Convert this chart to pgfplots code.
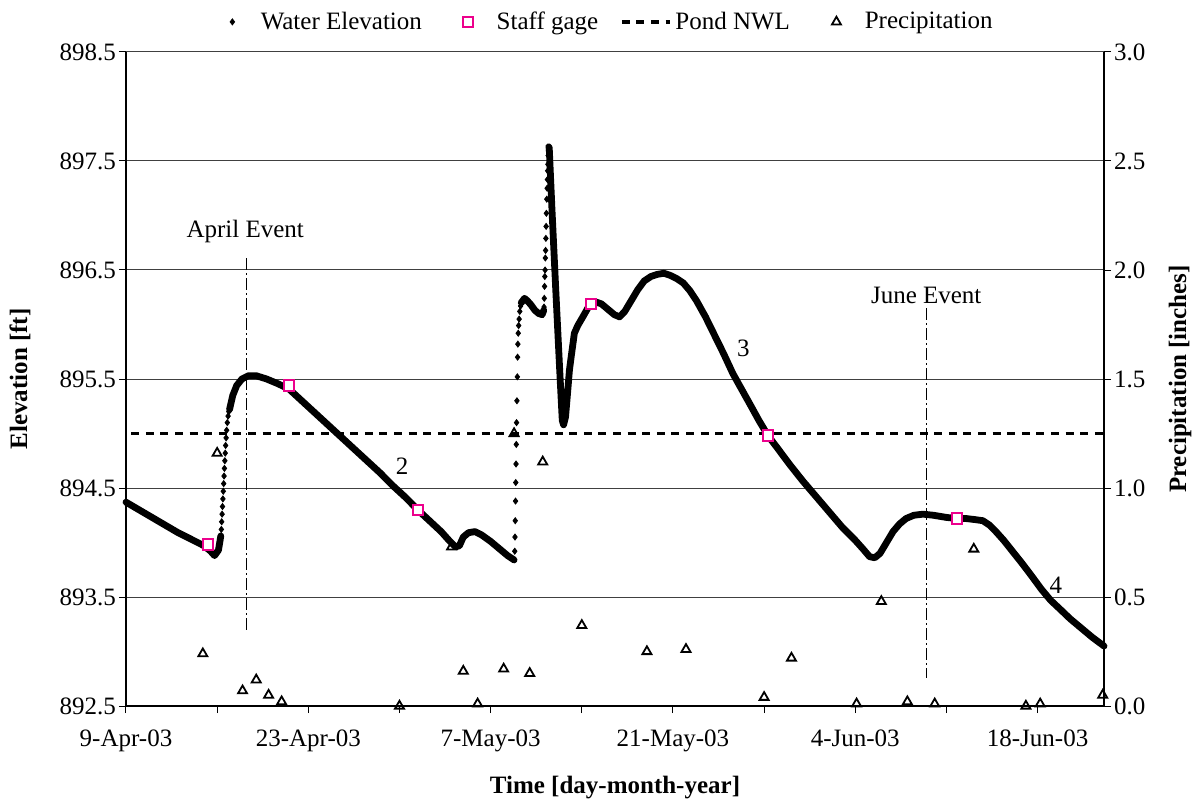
\documentclass[border=0pt]{standalone}
\usepackage{fontspec}
\setmainfont{Liberation Serif}
\usepackage{pgfplots}
\usepackage{pgfplotstable}
\pgfplotsset{compat=1.18}
\pgfplotsset{
  mymark legend/.style={legend image code/.code={\path (0pt,0pt) (24pt,0pt);\draw[##1] plot coordinates {(12pt,0pt)};}},
  myline legend/.style={legend image code/.code={\draw[##1] (0pt,0pt) -- (24pt,0pt);}},
}

% Water elevation: dense parts (drawn as a thick trace)
\pgfplotstableread{
d e
0.0 894.37
1.0 894.30
2.0 894.23
3.0 894.16
4.0 894.09
5.0 894.03
6.0 893.97
6.5 893.92
6.8 893.88
7.1 893.93
7.28 894.06
}\segA
\pgfplotstableread{
d e
7.95 895.22
8.2 895.35
8.5 895.44
8.9 895.50
9.4 895.53
10.0 895.53
10.8 895.50
11.6 895.46
12.5 895.41
13.5 895.30
14.5 895.19
15.5 895.08
16.5 894.97
17.5 894.86
18.5 894.75
19.5 894.64
20.5 894.52
21.5 894.41
22.4 894.30
23.3 894.20
24.2 894.10
24.8 894.02
25.3 893.96
25.6 893.97
25.9 894.05
26.3 894.09
26.8 894.10
27.3 894.07
28.0 894.01
28.7 893.94
29.3 893.88
29.8 893.84
}\segB
\pgfplotstableread{
d e
30.35 896.20
30.6 896.24
30.8 896.22
31.1 896.18
31.4 896.13
31.7 896.10
31.95 896.09
32.08 896.13
}\segC
\pgfplotstableread{
d e
32.46 897.63
32.5 897.62
32.7 897.08
33.0 896.32
33.3 895.59
33.5 895.12
33.6 895.08
33.75 895.15
33.92 895.39
34.05 895.58
34.18 895.70
34.43 895.92
34.69 895.99
35.08 896.07
35.46 896.15
35.72 896.19
36.0 896.21
36.5 896.19
37.0 896.14
37.5 896.09
37.9 896.07
38.3 896.12
38.8 896.22
39.3 896.32
39.8 896.40
40.3 896.44
40.8 896.46
41.3 896.47
41.8 896.45
42.3 896.42
42.8 896.38
43.3 896.31
43.8 896.22
44.5 896.07
45.2 895.90
45.9 895.73
46.6 895.55
47.3 895.40
48.0 895.25
48.6 895.12
49.3 894.98
50.0 894.87
51.0 894.71
52.0 894.56
53.0 894.42
54.0 894.28
55.0 894.14
56.0 894.02
56.6 893.94
57.1 893.87
57.5 893.86
57.9 893.90
58.4 894.00
58.9 894.10
59.4 894.17
59.9 894.22
60.5 894.25
61.2 894.26
62.0 894.25
63.0 894.23
63.8 894.22
64.5 894.22
65.2 894.21
65.8 894.20
66.3 894.16
66.8 894.10
67.4 894.02
68.0 893.93
68.8 893.81
69.5 893.70
70.3 893.57
71.0 893.47
71.8 893.38
72.5 893.30
73.3 893.22
74.2 893.13
75.1 893.05
}\segD
% Water elevation: separate readings on the steep rises
\pgfplotstableread{
d e
7.28 894.06
7.32 894.12
7.35 894.19
7.38 894.26
7.41 894.33
7.44 894.40
7.47 894.47
7.50 894.54
7.53 894.61
7.56 894.68
7.59 894.75
7.62 894.82
7.65 894.89
7.69 894.96
7.73 895.03
7.78 895.10
7.84 895.16
7.90 895.20
29.85 893.92
29.87 894.05
29.89 894.20
29.91 894.38
29.93 894.55
29.95 894.72
29.97 894.90
29.99 895.10
30.02 895.30
30.05 895.52
30.07 895.70
30.09 895.82
30.12 895.92
30.15 895.99
30.19 896.05
30.24 896.12
30.30 896.17
32.10 896.16
32.12 896.24
32.14 896.35
32.16 896.44
32.18 896.50
32.20 896.61
32.22 896.68
32.24 896.79
32.26 896.90
32.28 897.02
32.31 897.15
32.34 897.25
32.36 897.33
32.38 897.41
32.40 897.47
32.42 897.55
32.44 897.60
}\dots
\pgfplotstableread{
d e
6.3 893.98
12.5 895.44
22.4 894.30
35.7 896.19
49.3 894.98
63.8 894.22
}\staff
\pgfplotstableread{
d p
5.9 0.24
7.0 1.16
8.95 0.07
10.0 0.12
10.95 0.05
11.95 0.02
21.0 0.00
25.0 0.73
25.9 0.16
27.0 0.01
29.0 0.17
29.8 1.25
31.0 0.15
32.0 1.12
35.0 0.37
40.0 0.25
43.0 0.26
49.0 0.04
51.1 0.22
56.1 0.01
58.0 0.48
60.0 0.02
62.1 0.01
65.1 0.72
69.1 0.00
70.2 0.01
75.0 0.05
}\precip

\begin{document}
\begin{tikzpicture}[font=\fontsize{12.5}{15}\selectfont]
\useasboundingbox (-63pt,-49pt) rectangle (534.5pt,353pt);
\begin{axis}[
  scale only axis, width=489pt, height=327pt,
  xmin=0, xmax=75.1, ymin=892.5, ymax=898.5,
  clip=false,
  axis x line*=bottom, axis y line*=left,
  xtick={0,7,...,70},
  xticklabels={9-Apr-03,,23-Apr-03,,7-May-03,,21-May-03,,4-Jun-03,,18-Jun-03},
  ytick={892.5,893.5,894.5,895.5,896.5,897.5,898.5},
  yticklabels={892.5,893.5,894.5,895.5,896.5,897.5,898.5},
  ymajorgrids, major grid style={black!75, line width=0.5pt},
  tick align=outside, major tick length=3.5pt,
  tick style={black, line width=0.5pt},
  axis line style={black, line width=0.6pt},
  tick label style={font=\fontsize{12.5}{15}\selectfont},
  xticklabel style={yshift=-5pt},
  yticklabel style={xshift=2pt},
  ylabel={\textbf{Elevation [ft]}},
  ylabel style={at={(axis description cs:-0.1084,0.5)}, anchor=center, font=\fontsize{12.5}{15}\selectfont},
  xlabel={\textbf{Time [day-month-year]}},
  xlabel style={at={(axis description cs:0.5,-0.124)}, anchor=center, font=\fontsize{12.5}{15}\selectfont},
  legend columns=4,
  legend style={at={(axis description cs:0.487,1.046)}, anchor=center,
    draw=none, fill=none, font=\fontsize{12.5}{15}\selectfont,
    /tikz/every even column/.append style={column sep=9pt}},
]
\addplot[only marks, mark=diamond*, mark size=1.5pt, black, mymark legend] table[x=d,y=e] {\dots};
\addlegendentry{Water Elevation}
\addplot[forget plot, black, line width=3.4pt, line join=round, line cap=round] table[x=d,y=e] {\segA};
\addplot[forget plot, black, line width=3.4pt, line join=round, line cap=round] table[x=d,y=e] {\segB};
\addplot[forget plot, black, line width=3.4pt, line join=round, line cap=round] table[x=d,y=e] {\segC};
\addplot[forget plot, black, line width=3.4pt, line join=round, line cap=round] table[x=d,y=e] {\segD};
\addplot[only marks, mark=square*, mark size=2.6pt, mark options={draw=magenta, fill=white, line width=1pt}, mymark legend] table[x=d,y=e] {\staff};
\addlegendentry{Staff gage}
\addplot[black, line width=1.6pt, dash pattern=on 4pt off 3.3pt, myline legend] coordinates {(0.4,895.0) (75.0,895.0)};
\addlegendentry{Pond NWL}
\addlegendimage{only marks, mark=triangle, mark size=2.6pt, black, mark options={line width=0.9pt}, mymark legend}
\addlegendentry{Precipitation}
\addplot[forget plot, black, line width=0.5pt, dash pattern=on 6pt off 1.5pt on 1pt off 1.5pt] coordinates {(9.24,896.61) (9.24,893.18)};
\addplot[forget plot, black, line width=0.5pt, dash pattern=on 6pt off 1.5pt on 1pt off 1.5pt] coordinates {(61.45,896.15) (61.45,892.76)};
\node at (axis cs:9.16,896.85) {April Event};
\node at (axis cs:61.45,896.27) {June Event};
\node at (axis cs:21.2,894.70) {2};
\node at (axis cs:47.4,895.78) {3};
\node at (axis cs:71.4,893.61) {4};
\end{axis}
\begin{axis}[
  scale only axis, width=489pt, height=327pt,
  xmin=0, xmax=75.1, ymin=0, ymax=3,
  clip=false,
  axis y line*=right, axis x line=none,
  ytick={0,0.5,1,1.5,2,2.5,3},
  yticklabels={0.0,0.5,1.0,1.5,2.0,2.5,3.0},
  tick align=outside, major tick length=3.5pt,
  tick style={black, line width=0.5pt},
  axis line style={black, line width=0.6pt},
  tick label style={font=\fontsize{12.5}{15}\selectfont},
  yticklabel style={xshift=-2pt},
  ylabel={\textbf{Precipitation [inches]}},
  ylabel style={at={(axis description cs:1.0777,0.5)}, anchor=center, rotate=0, font=\fontsize{12.5}{15}\selectfont},
]
\addplot[only marks, mark=triangle, mark size=2.6pt, black, mark options={line width=0.9pt}] table[x=d,y=p] {\precip};
\end{axis}
\end{tikzpicture}
\end{document}
